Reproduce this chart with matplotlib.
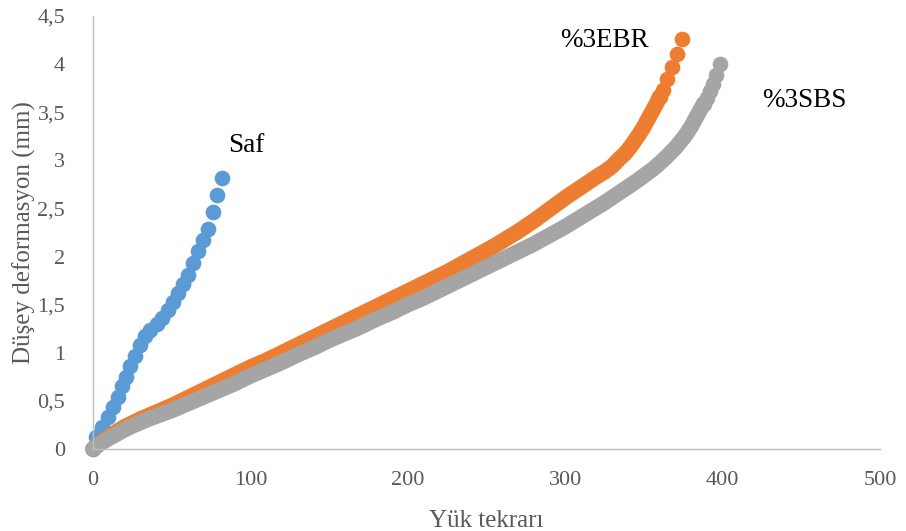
import matplotlib
matplotlib.use("Agg")
import matplotlib.pyplot as plt
from matplotlib.ticker import FuncFormatter

plt.rcParams['font.family'] = ['Liberation Serif', 'DejaVu Serif']

# Saf (katkısız) numune
saf_n = [0, 2, 6, 9.5, 12.7, 15.9, 18.5, 21.2, 23.8, 26.5, 29.7, 32.8, 36.2,
         40.5, 43.6, 47.8, 51.0, 54.2, 57.4, 60.5, 63.7, 66.9, 69.7, 72.8,
         76.0, 79.0, 82.0]
saf_d = [0.00, 0.13, 0.23, 0.33, 0.44, 0.54, 0.65, 0.75, 0.86, 0.97, 1.08,
         1.17, 1.24, 1.30, 1.36, 1.44, 1.53, 1.62, 1.71, 1.81, 1.93, 2.06,
         2.17, 2.29, 2.46, 2.64, 2.82]

# %3 EBR katkılı numune
ebr_n = [0, 5, 10, 15, 20, 25, 30, 35, 40, 45, 50, 55, 60, 65, 70, 75, 80,
         85, 90, 95, 100, 105, 110, 115, 120, 125, 130, 135, 140, 145, 150,
         155, 160, 165, 170, 175, 180, 185, 190, 195, 200, 205, 210, 215, 220,
         225, 230, 235, 240, 245, 250, 255, 260, 265, 270, 275, 280, 285, 290,
         295, 300, 305, 310, 315, 320, 325, 330, 334, 338, 341, 344, 347, 350,
         352, 354, 356, 358, 360, 362, 365, 368, 371, 374.5]
ebr_d = [0.00, 0.07, 0.13, 0.18, 0.23, 0.27, 0.31, 0.345, 0.38, 0.415, 0.45,
         0.49, 0.53, 0.57, 0.61, 0.65, 0.69, 0.73, 0.77, 0.81, 0.85, 0.885,
         0.92, 0.96, 1.00, 1.04, 1.08, 1.12, 1.16, 1.20, 1.24, 1.28, 1.32,
         1.36, 1.40, 1.44, 1.48, 1.52, 1.56, 1.60, 1.64, 1.68, 1.72, 1.76,
         1.80, 1.84, 1.885, 1.93, 1.975, 2.02, 2.065, 2.11, 2.16, 2.21, 2.26,
         2.315, 2.37, 2.43, 2.49, 2.55, 2.61, 2.665, 2.72, 2.775, 2.83, 2.88,
         2.94, 3.01, 3.07, 3.13, 3.20, 3.27, 3.35, 3.41, 3.47, 3.53, 3.59,
         3.66, 3.73, 3.84, 3.97, 4.11, 4.26]

# %3 SBS katkılı numune
sbs_n = [0, 5, 10, 15, 20, 25, 30, 35, 40, 45, 50, 55, 60, 65, 70, 75, 80,
         85, 90, 95, 100, 105, 110, 115, 120, 125, 130, 135, 140, 145, 150,
         155, 160, 165, 170, 175, 180, 185, 190, 195, 200, 205, 210, 215, 220,
         225, 230, 235, 240, 245, 250, 255, 260, 265, 270, 275, 280, 285, 290,
         295, 300, 305, 310, 315, 320, 325, 330, 335, 340, 345, 350, 355, 358,
         361, 364, 367, 370, 373, 376, 378, 380, 382, 384, 386, 388, 390, 392,
         394, 396, 398.5]
sbs_d = [0.00, 0.06, 0.11, 0.155, 0.20, 0.24, 0.275, 0.31, 0.34, 0.37, 0.40,
         0.435, 0.47, 0.505, 0.54, 0.575, 0.61, 0.645, 0.68, 0.72, 0.76,
         0.795, 0.83, 0.865, 0.90, 0.94, 0.98, 1.015, 1.05, 1.09, 1.13,
         1.165, 1.20, 1.235, 1.27, 1.31, 1.35, 1.385, 1.42, 1.46, 1.50,
         1.535, 1.57, 1.61, 1.65, 1.69, 1.73, 1.77, 1.81, 1.85, 1.89, 1.93,
         1.97, 2.01, 2.05, 2.09, 2.13, 2.175, 2.22, 2.265, 2.31, 2.36, 2.41,
         2.46, 2.51, 2.56, 2.615, 2.67, 2.725, 2.78, 2.84, 2.90, 2.94, 2.985,
         3.03, 3.08, 3.13, 3.19, 3.25, 3.30, 3.35, 3.41, 3.47, 3.53, 3.59,
         3.65, 3.72, 3.79, 3.89, 4.00]

x_ticks = [0, 100, 200, 300, 400, 500]
y_ticks = [0, 0.5, 1, 1.5, 2, 2.5, 3, 3.5, 4, 4.5]

fig = plt.figure(figsize=(9.06, 5.31), dpi=100)
ax = fig.add_axes([0.1026, 0.1544, 0.8687, 0.8155])

ms = 11.3

def seri(n, d, color, k):
    # thick band through all points, separate dots only for the last k
    ax.plot(n[:-k + 1], d[:-k + 1], '-', color=color, lw=ms,
            solid_capstyle='round', solid_joinstyle='round', clip_on=False)
    ax.plot(n[-k:], d[-k:], 'o', color=color, ms=ms, mew=0, clip_on=False)

ax.plot(saf_n, saf_d, 'o', color='#5B9BD5', ms=ms, mew=0, clip_on=False)
seri(ebr_n, ebr_d, '#ED7D31', 6)
seri(sbs_n, sbs_d, '#A5A5A5', 6)

ax.set_xlim(0, 500)
ax.set_ylim(0, 4.5)
ax.set_xticks(x_ticks)
ax.set_yticks(y_ticks)
ax.yaxis.set_major_formatter(FuncFormatter(lambda v, p: f'{v:g}'.replace('.', ',')))
ax.tick_params(length=0, labelsize=16, labelcolor='#595959')
ax.tick_params(axis='y', pad=20)
ax.tick_params(axis='x', pad=16)

for s in ['top', 'right']:
    ax.spines[s].set_visible(False)
for s in ['left', 'bottom']:
    ax.spines[s].set_color('#BFBFBF')
    ax.spines[s].set_linewidth(1.0)

ax.set_xlabel('Yük tekrarı', fontsize=18, color='#595959', labelpad=14)
ax.set_ylabel('Düşey deformasyon (mm)', fontsize=18, color='#595959', labelpad=1)

ax.text(86, 3.15, 'Saf', fontsize=19.5, va='center')
ax.text(297, 4.25, '%3EBR', fontsize=19.5, va='center')
ax.text(425, 3.62, '%3SBS', fontsize=19.5, va='center')

fig.savefig('out.png', dpi=100)
